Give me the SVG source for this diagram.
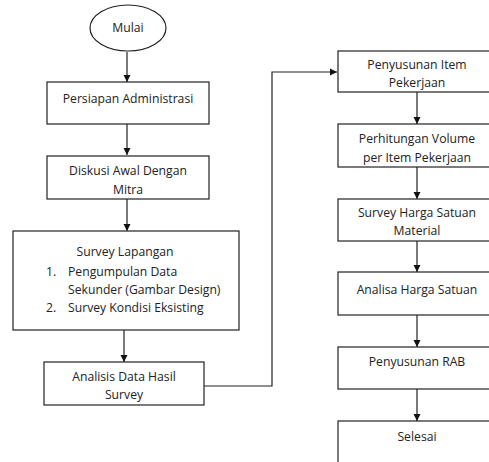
<svg xmlns="http://www.w3.org/2000/svg" width="489" height="462" viewBox="0 0 489 462">
<style>
.box{fill:#fff;stroke:#222;stroke-width:1.2}
.t{font-family:"Open Sans","Liberation Sans",sans-serif;font-size:12.2px;fill:#222;text-anchor:middle}
.ts{font-family:"Open Sans","Liberation Sans",sans-serif;font-size:12.2px;fill:#222}
.c{fill:none;stroke:#222;stroke-width:1.2}
</style>
<defs>
<marker id="ah" markerWidth="8" markerHeight="8" refX="7" refY="4" orient="auto" markerUnits="userSpaceOnUse">
<path d="M0,0.5 L7,4 L0,7.5 Z" fill="#111"/>
</marker>
</defs>
<rect width="489" height="462" fill="#fff"/>
<g id="connectors">
<path class="c" d="M127,52 V82" marker-end="url(#ah)"/>
<path class="c" d="M127,124 V155" marker-end="url(#ah)"/>
<path class="c" d="M127,199 V231" marker-end="url(#ah)"/>
<path class="c" d="M124,330 V362" marker-end="url(#ah)"/>
<path class="c" d="M204,386 H272 V72 H337" marker-end="url(#ah)"/>
<path class="c" d="M417,92 V124" marker-end="url(#ah)"/>
<path class="c" d="M417,167 V199" marker-end="url(#ah)"/>
<path class="c" d="M417,241 V272" marker-end="url(#ah)"/>
<path class="c" d="M417,315 V347" marker-end="url(#ah)"/>
<path class="c" d="M417,389 V421" marker-end="url(#ah)"/>
</g>
<g id="mulai">
<ellipse class="box" cx="128" cy="28" rx="38" ry="23"/>
<text class="t" x="128" y="32">Mulai</text>
</g>
<g id="persiapan">
<rect class="box" x="47" y="82" width="162" height="42"/>
<text class="t" x="128" y="103">Persiapan Administrasi</text>
</g>
<g id="diskusi">
<rect class="box" x="47" y="156" width="162" height="43"/>
<text class="t" x="128" y="175">Diskusi Awal Dengan</text>
<text class="t" x="128" y="194">Mitra</text>
</g>
<g id="survey-lapangan">
<rect class="box" x="13" y="231" width="226" height="99"/>
<text class="t" x="125" y="256">Survey Lapangan</text>
<text class="ts" x="46" y="276">1.</text>
<text class="ts" x="68" y="276">Pengumpulan Data</text>
<text class="ts" x="68" y="294">Sekunder (Gambar Design)</text>
<text class="ts" x="46" y="312">2.</text>
<text class="ts" x="68" y="312">Survey Kondisi Eksisting</text>
</g>
<g id="analisis">
<rect class="box" x="44" y="362" width="160" height="43"/>
<text class="t" x="124" y="381">Analisis Data Hasil</text>
<text class="t" x="124" y="399">Survey</text>
</g>
<g id="penyusunan-item">
<rect class="box" x="338" y="51" width="170" height="41"/>
<text class="t" x="417" y="69">Penyusunan Item</text>
<text class="t" x="417" y="87">Pekerjaan</text>
</g>
<g id="perhitungan">
<rect class="box" x="338" y="124" width="170" height="43"/>
<text class="t" x="417" y="143">Perhitungan Volume</text>
<text class="t" x="417" y="162">per Item Pekerjaan</text>
</g>
<g id="survey-harga">
<rect class="box" x="338" y="199" width="170" height="42"/>
<text class="t" x="417" y="217">Survey Harga Satuan</text>
<text class="t" x="417" y="235">Material</text>
</g>
<g id="analisa-harga">
<rect class="box" x="338" y="272" width="170" height="43"/>
<text class="t" x="417" y="294">Analisa Harga Satuan</text>
</g>
<g id="rab">
<rect class="box" x="338" y="347" width="170" height="42"/>
<text class="t" x="417" y="366">Penyusunan RAB</text>
</g>
<g id="selesai">
<rect class="box" x="338" y="421" width="170" height="60"/>
<text class="t" x="417" y="441">Selesai</text>
</g>
</svg>
